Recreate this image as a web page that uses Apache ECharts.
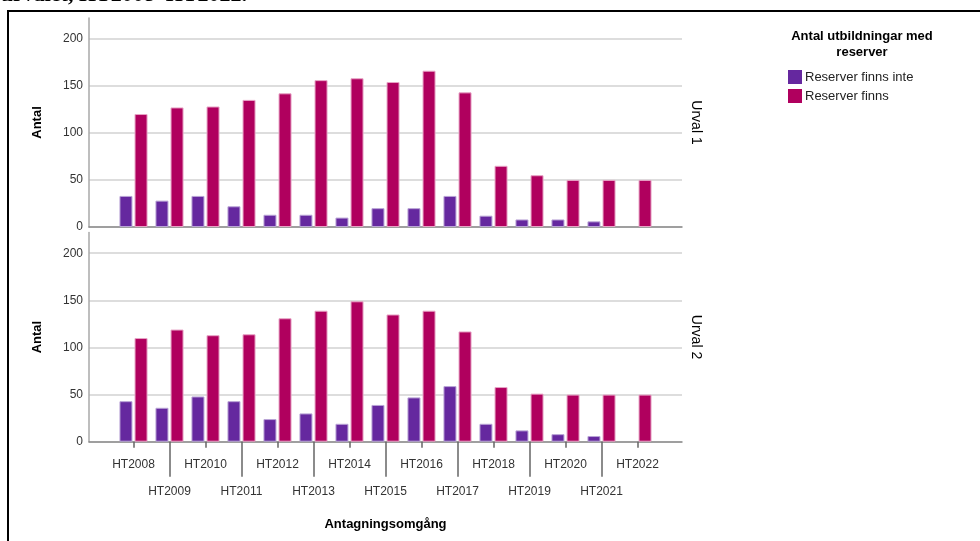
<!DOCTYPE html>
<html>
<head>
<meta charset="utf-8">
<script src="https://cdn.jsdelivr.net/npm/echarts@6/dist/echarts.min.js"></script>
<style>
  html, body { margin: 0; padding: 0; background: #fff; }
  #chart { width: 980px; height: 541px; }
</style>
</head>
<body>
<div id="chart"></div>
<script>
// Antagningsomgångar (kategorier på x-axeln)
const categories = ['HT2008', 'HT2009', 'HT2010', 'HT2011', 'HT2012', 'HT2013', 'HT2014',
  'HT2015', 'HT2016', 'HT2017', 'HT2018', 'HT2019', 'HT2020', 'HT2021', 'HT2022'];

// Urval 1
const urval1FinnsInte = [33, 28, 33, 22, 13, 13, 10, 20, 20, 33, 12, 8, 8, 6, null];
const urval1Finns = [120, 127, 128, 135, 142, 156, 158, 154, 166, 143, 65, 55, 50, 50, 50];

// Urval 2
const urval2FinnsInte = [43, 36, 48, 43, 24, 30, 19, 39, 47, 59, 19, 12, 8, 6, null];
const urval2Finns = [110, 119, 113, 114, 131, 139, 149, 135, 139, 117, 58, 51, 50, 50, 50];

const yTicks = [0, 50, 100, 150, 200];

const seriesNames = ['Reserver finns inte', 'Reserver finns'];
const panelNames = ['Urval 1', 'Urval 2'];

const FONT = '"Liberation Sans", Arial, sans-serif';
const PURPLE = '#65289f';
const MAGENTA = '#b0005e';

const Y_MAX = 222;

const chart = echarts.init(document.getElementById('chart'), null, { renderer: 'canvas' });

// Panel layout: a wide frame grid (gridlines + axis lines) and a narrower grid holding the bars
const panels = [
  { top: 18, height: 209 },
  { top: 232.5, height: 209.2 }
];

const grids = [];
panels.forEach(p => {
  grids.push({ left: 89, top: p.top, width: 593, height: p.height });
  grids.push({ left: 115.5, top: p.top, width: 540, height: p.height });
});

function frameYAxis(gridIndex) {
  return {
    type: 'value', gridIndex, min: 0, max: Y_MAX, interval: 50,
    name: 'Antal', nameLocation: 'middle', nameGap: 45,
    nameTextStyle: { fontFamily: FONT, fontWeight: 'bold', fontSize: 13, color: '#000' },
    axisLine: { show: true, lineStyle: { color: '#a8a8a8', width: 1.5 } },
    axisTick: { show: false },
    axisLabel: {
      fontFamily: FONT, fontSize: 12, color: '#333', margin: 6,
      showMaxLabel: false,
      formatter: v => (yTicks.indexOf(v) >= 0 ? String(v) : '')
    },
    splitLine: { show: true, showMaxLine: false, lineStyle: { color: '#d2d2d2', width: 1.5 } }
  };
}
function barYAxis(gridIndex) {
  return { type: 'value', gridIndex, min: 0, max: Y_MAX, show: false, splitLine: { show: false } };
}

const yAxes = [frameYAxis(0), barYAxis(1), frameYAxis(2), barYAxis(3)];

const xAxes = [
  // top frame
  { type: 'category', gridIndex: 0, data: categories,
    axisLine: { show: true, lineStyle: { color: '#8a8a8a', width: 1.5 } },
    axisTick: { show: false }, axisLabel: { show: false } },
  // top bars
  { type: 'category', gridIndex: 1, data: categories,
    axisLine: { show: false }, axisTick: { show: false }, axisLabel: { show: false } },
  // bottom frame
  { type: 'category', gridIndex: 2, data: categories,
    axisLine: { show: true, lineStyle: { color: '#8a8a8a', width: 1.5 } },
    axisTick: { show: false }, axisLabel: { show: false } },
  // bottom bars, first label row (even positions)
  { type: 'category', gridIndex: 3, data: categories,
    axisLine: { show: false },
    axisTick: { show: true, alignWithLabel: true, length: 6,
      interval: (i) => i % 2 === 0, lineStyle: { color: '#666', width: 1.5 } },
    axisLabel: { show: true, interval: (i) => i % 2 === 0, margin: 17,
      fontFamily: FONT, fontSize: 12, color: '#333' } },
  // bottom bars, second label row (odd positions) with long separator ticks
  { type: 'category', gridIndex: 3, data: categories, position: 'bottom', offset: 0,
    name: 'Antagningsomgång', nameLocation: 'middle', nameGap: 76,
    nameTextStyle: { fontFamily: FONT, fontWeight: 'bold', fontSize: 13, color: '#000' },
    axisLine: { show: false },
    axisTick: { show: true, alignWithLabel: true, length: 35,
      interval: (i) => i % 2 === 1, lineStyle: { color: '#666', width: 1.5 } },
    axisLabel: { show: true, interval: (i) => i % 2 === 1, margin: 44,
      fontFamily: FONT, fontSize: 12, color: '#333' } }
];

function barSeries(name, data, color, border, axisIndex) {
  return {
    type: 'bar', name, data,
    xAxisIndex: axisIndex, yAxisIndex: axisIndex,
    barWidth: 13, barGap: '16%',
    itemStyle: { color, borderColor: border, borderWidth: 1 },
    emphasis: { disabled: true },
    animation: false
  };
}

const series = [
  barSeries(seriesNames[0], urval1FinnsInte, PURPLE, '#b9a4d6', 1),
  barSeries(seriesNames[1], urval1Finns, MAGENTA, '#e7a3c5', 1),
  barSeries(seriesNames[0], urval2FinnsInte, PURPLE, '#b9a4d6', 3),
  barSeries(seriesNames[1], urval2Finns, MAGENTA, '#e7a3c5', 3)
];

const graphics = [
  // outer frame
  { type: 'rect', z: 0, silent: true,
    shape: { x: 8, y: 11, width: 1000, height: 600 },
    style: { fill: 'none', stroke: '#000', lineWidth: 2 } },
  // heading line above the frame
  { type: 'text', silent: true, x: 247, y: 6,
    style: { text: 'med och utan reserver i urvalet, HT2008–HT2022.', textAlign: 'right',
      verticalAlign: 'bottom', font: 'bold 22px "Liberation Serif", serif', fill: '#000' } },
  // legend heading
  { type: 'text', silent: true, x: 862, y: 36,
    style: { text: 'Antal utbildningar med', textAlign: 'center', verticalAlign: 'middle',
      font: 'bold 13px ' + FONT, fill: '#000' } },
  { type: 'text', silent: true, x: 862, y: 52,
    style: { text: 'reserver', textAlign: 'center', verticalAlign: 'middle',
      font: 'bold 13px ' + FONT, fill: '#000' } },
  // panel strip labels
  { type: 'text', silent: true, x: 696, y: 122.5, rotation: -Math.PI / 2,
    style: { text: panelNames[0], textAlign: 'center', verticalAlign: 'middle',
      font: '14px ' + FONT, fill: '#000' } },
  { type: 'text', silent: true, x: 696, y: 337, rotation: -Math.PI / 2,
    style: { text: panelNames[1], textAlign: 'center', verticalAlign: 'middle',
      font: '14px ' + FONT, fill: '#000' } }
];

chart.setOption({
  backgroundColor: '#fff',
  animation: false,
  grid: grids,
  xAxis: xAxes,
  yAxis: yAxes,
  legend: {
    data: seriesNames,
    orient: 'vertical', left: 783, top: 65,
    icon: 'rect', itemWidth: 14, itemHeight: 14, itemGap: 5,
    selectedMode: false,
    itemStyle: { borderWidth: 0 },
    textStyle: { fontFamily: FONT, fontSize: 13, color: '#222', padding: [0, 0, 0, -2] }
  },
  series,
  graphic: graphics
});
</script>
</body>
</html>
